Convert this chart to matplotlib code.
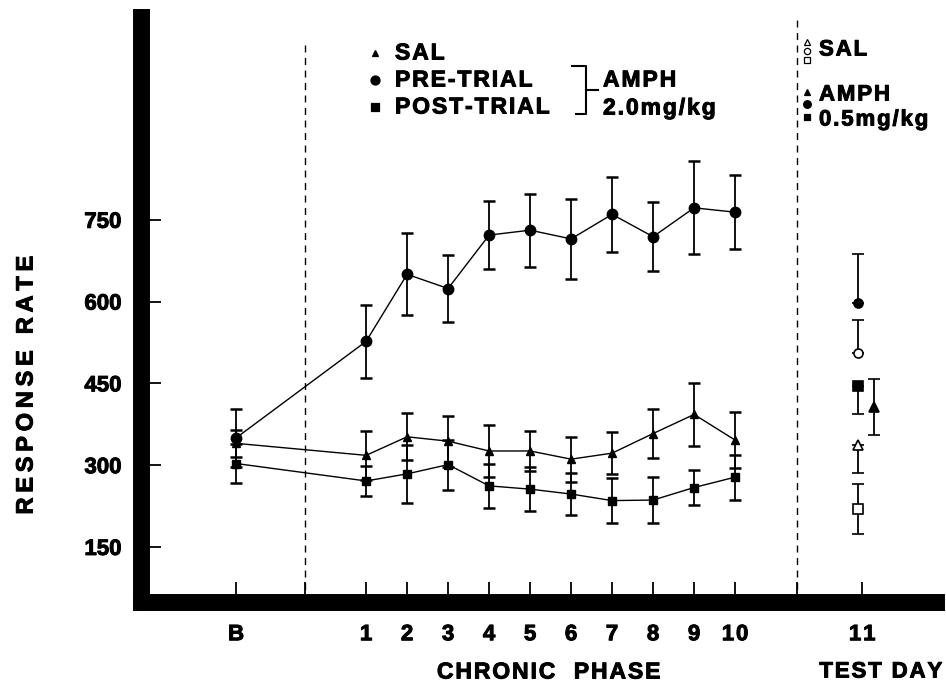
import matplotlib
matplotlib.use("Agg")
import matplotlib.pyplot as plt
import matplotlib.patheffects as pe
from matplotlib.lines import Line2D

# chronic phase: baseline (B) + days 1-10
day_labels = ["B", "1", "2", "3", "4", "5", "6", "7", "8", "9", "10"]
pre_mean = [350, 527, 650, 624, 722, 731, 715, 760, 719, 772, 764]
pre_err = [53, 67, 75, 61, 63, 67, 73, 69, 63, 85, 68]
sal_mean = [340, 318, 352, 344, 326, 326, 311, 322, 358, 393, 346]
sal_err = [25, 45, 43, 47, 48, 36, 41, 38, 45, 57, 52]
post_mean = [303, 271, 284, 301, 262, 256, 247, 235, 236, 259, 278]
post_err = [35, 27, 53, 46, 40, 40, 39, 42, 43, 33, 41]

# test day 11: (mean, lower err, upper err)
test_sal_pre = (505, 0, 61)
test_sal_post = (219, 46, 46)
test_sal_sal = (337, 52, 0)
test_amph_pre = (597, 0, 90)
test_amph_post = (446, 52, 0)
test_amph_sal = (407, 51, 51)

W, H = 946, 683
plt.rcParams['font.family'] = ['Liberation Sans', 'DejaVu Sans']
plt.rcParams['font.weight'] = 'bold'

fig = plt.figure(figsize=(W / 100, H / 100), dpi=100)
heavy = [pe.withStroke(linewidth=0.7, foreground="black")]


def fx(px):
    return px / W


def fy(py):
    return 1 - py / H


def spaced(s, sep="\u200a"):
    # old phototype lettering is loosely tracked
    return sep.join(s)


def key(px, py, marker, ms, fill="black"):
    # legend symbol placed in figure pixels
    fig.add_artist(Line2D([fx(px)], [fy(py)], marker=marker, ms=ms, mfc=fill,
                          mec="black", mew=0.9, ls="none", transform=fig.transFigure))


ax = fig.add_axes([fx(141), fy(602), fx(936) - fx(141), fy(17) - fy(602)])

# x positions: B sits a bit more than 3 days left of day 1
xpos = [-2.17] + list(range(1, 11))
x11 = 13.0

ebkw = dict(color="black", lw=1.0, elinewidth=1.3, capsize=4.5, capthick=1.8)
ax.errorbar(xpos, post_mean, yerr=post_err, fmt="-s", ms=6, **ebkw)
ax.errorbar(xpos, sal_mean, yerr=sal_err, fmt="-^", ms=5.5, **ebkw)
ax.errorbar(xpos, pre_mean, yerr=pre_err, fmt="-o", ms=7.5, **ebkw)

# test day points
for (m, lo, hi), mk, fill, dx in [
    (test_amph_pre, "o", "black", 0),
    (test_sal_pre, "o", "white", 0),
    (test_amph_post, "s", "black", 0),
    (test_sal_sal, "^", "white", 0),
    (test_sal_post, "s", "white", 0),
    (test_amph_sal, "^", "black", 0.4),
]:
    ax.errorbar([x11 + dx], [m], yerr=[[lo], [hi]], fmt=mk, ms=6.5,
                mfc=fill, mec="black", mew=1.2, **ebkw)

# dashed separators
ax.axvline(-0.5, ymin=0, ymax=0.957, color="black", lw=1, ls=(0, (5, 4)))
ax.axvline(11.5, ymin=0, ymax=1.0, color="black", lw=1, ls=(0, (5, 4)), clip_on=False)

ax.set_xlim(-4.49, 14.9)
ax.set_ylim(49, 1122)

for s in ["top", "right"]:
    ax.spines[s].set_visible(False)
for s in ["left", "bottom"]:
    ax.spines[s].set_linewidth(12.2)
    ax.spines[s].set_capstyle("projecting")

ax.set_yticks([150, 300, 450, 600, 750])
ax.set_xticks(xpos + [x11 + 0.1])
ax.set_xticklabels([spaced(t) for t in day_labels + ["11"]])
ax.set_xticks([-0.5, 11.5], minor=True)
ax.tick_params(axis="both", which="both", direction="in", length=14.4, width=1.3,
               labelsize=16)
ax.tick_params(axis="y", pad=14)
ax.tick_params(axis="x", pad=16)
for lab in ax.get_xticklabels() + ax.get_yticklabels():
    lab.set_path_effects(heavy)

# axis titles
ttl = dict(ha="center", va="center", path_effects=heavy)
fig.text(fx(26), fy(385), spaced("RESPONSE RATE", "\u2009"), rotation=90,
         fontsize=17, **ttl)
fig.text(fx(548), fy(672), spaced("CHRONIC  PHASE"), fontsize=16.5, **ttl)
fig.text(fx(881), fy(672), spaced("TEST DAY"), fontsize=16, **ttl)

# main legend
tk = dict(ha="left", va="center", fontsize=16.5, path_effects=heavy)
key(375, 53, "^", 5)
key(375, 80, "o", 6.5)
key(375, 107, "s", 5.5)
fig.text(fx(395), fy(53), spaced("SAL"), **tk)
fig.text(fx(395), fy(80), spaced("PRE-TRIAL"), **tk)
fig.text(fx(395), fy(107), spaced("POST-TRIAL"), **tk)
bk = dict(color="black", lw=1.5, transform=fig.transFigure)
fig.add_artist(Line2D([fx(572), fx(586), fx(586), fx(576)],
                      [fy(66), fy(66), fy(114), fy(114)], **bk))
fig.add_artist(Line2D([fx(586), fx(598)], [fy(90), fy(90)], **bk))
fig.text(fx(603), fy(80), spaced("AMPH"), **tk)
fig.text(fx(603), fy(108), spaced("2.0mg/kg"), **tk)

# test day legend
key(807, 42, "^", 4.5, "white")
key(807, 51, "o", 4.5, "white")
key(807, 60, "s", 4, "white")
key(807, 92, "^", 5)
key(807, 104, "o", 5.5)
key(807, 117, "s", 4.5)
tk2 = dict(tk, fontsize=16)
fig.text(fx(819), fy(50), spaced("SAL"), **tk2)
fig.text(fx(819), fy(95), spaced("AMPH"), **tk2)
fig.text(fx(819), fy(120), spaced("0.5mg/kg"), **tk2)

fig.savefig("out.png", dpi=100)
